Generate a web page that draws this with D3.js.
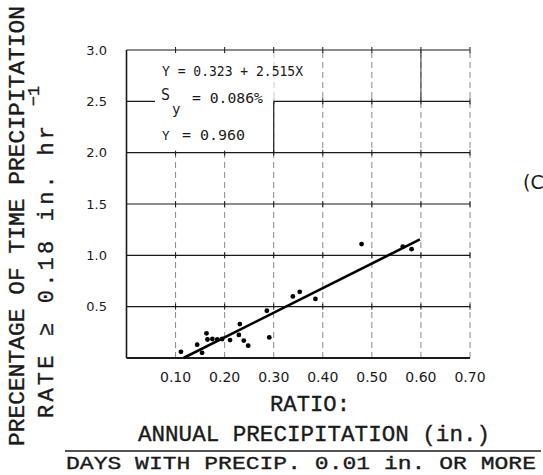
<!DOCTYPE html>
<html><head><meta charset="utf-8">
<script src="https://cdn.jsdelivr.net/npm/d3@7"></script>
<style>body{margin:0;background:#fff;} svg{display:block;}</style>
</head><body><svg id="c" width="543" height="475"></svg>
<script>
// ---- data ----
const ratioX   = [0.111,0.144,0.154,0.163,0.165,0.175,0.185,0.195,0.211,0.229,0.231,0.239,0.248,0.286,0.291,0.339,0.353,0.385,0.479,0.563,0.581];
const percentY = [0.06, 0.13, 0.05, 0.24, 0.18, 0.185,0.18, 0.185,0.175,0.225,0.33, 0.17, 0.12, 0.46, 0.20, 0.60, 0.645,0.575,1.11, 1.085,1.06];
const fitX = [0.116, 0.598];
const fitY = [0.0, 1.155];
const xTicks = [0.1,0.2,0.3,0.4,0.5,0.6,0.7];
const xTickLabels = ["0.10","0.20","0.30","0.40","0.50","0.60","0.70"];
const yTicks = [0.5,1.0,1.5,2.0,2.5,3.0];
const yTickLabels = ["0.5","1.0","1.5","2.0","2.5","3.0"];
const eqLine = "Y = 0.323 + 2.515X";
const syLine = "= 0.086%";
const rLine = "= 0.960";
const yTitle1 = "PRECENTAGE OF TIME PRECIPITATION";
const yTitle2 = "RATE \u2265 0.18 in. hr";
const xTitle1 = "RATIO:";
const xTitle2 = "ANNUAL PRECIPITATION (in.)";
const xTitle3 = "DAYS WITH PRECIP. 0.01 in. OR MORE";

// ---- drawing ----
const svg = d3.select("#c");
svg.append("rect").attr("width",543).attr("height",475).attr("fill","#fff");
const x = d3.scaleLinear().domain([0,0.7]).range([126.5,470]);
const y = d3.scaleLinear().domain([0,3]).range([358,50]);
const ink = "#1a1a1a";

// vertical dashed gridlines
svg.append("g").selectAll("line").data(xTicks).join("line")
  .attr("x1",d=>x(d)).attr("x2",d=>x(d)).attr("y1",y(0)).attr("y2",y(3))
  .attr("stroke","#8a8a8a").attr("stroke-width",1).attr("stroke-dasharray","6,4");
// horizontal gridlines
svg.append("g").selectAll("line").data(yTicks).join("line")
  .attr("x1",x(0)).attr("x2",x(0.7)).attr("y1",d=>y(d)).attr("y2",d=>y(d))
  .attr("stroke",ink).attr("stroke-width",1.2);
// small crosses at intersections
const inter = [];
xTicks.forEach(a=>yTicks.forEach(b=>inter.push([a,b])));
svg.append("g").selectAll("line").data(inter).join("line")
  .attr("x1",d=>x(d[0])).attr("x2",d=>x(d[0])).attr("y1",d=>y(d[1])-3).attr("y2",d=>y(d[1])+3)
  .attr("stroke",ink).attr("stroke-width",1);

// annotation box (blanks grid)
svg.append("rect").attr("x",155).attr("y",y(2.97)).attr("width",x(0.3)-155).attr("height",y(2.02)-y(2.97))
  .attr("fill","#fff");
svg.append("line").attr("x1",x(0.3)).attr("x2",x(0.3)).attr("y1",y(2.5)).attr("y2",y(2.0))
  .attr("stroke",ink).attr("stroke-width",1.2);
svg.append("line").attr("x1",x(0.6)).attr("x2",x(0.6)).attr("y1",y(3)).attr("y2",y(2.5))
  .attr("stroke","#444").attr("stroke-width",1.1);

// axes frame
svg.append("line").attr("x1",x(0)).attr("x2",x(0)).attr("y1",y(0)).attr("y2",y(3))
  .attr("stroke",ink).attr("stroke-width",1.6);
svg.append("line").attr("x1",x(0)).attr("x2",x(0.7)).attr("y1",y(0)).attr("y2",y(0))
  .attr("stroke",ink).attr("stroke-width",1.8);

// tick labels
svg.append("g").selectAll("text").data(yTicks).join("text")
  .attr("x",107).attr("y",d=>y(d)).attr("dy","0.36em").attr("text-anchor","end")
  .attr("font-family","DejaVu Sans").attr("font-size",13).attr("fill",ink)
  .text((d,i)=>yTickLabels[i]);
svg.append("g").selectAll("text").data(xTicks).join("text")
  .attr("x",d=>x(d)).attr("y",377).attr("dy","0.36em").attr("text-anchor","middle")
  .attr("font-family","DejaVu Sans").attr("font-size",14).attr("fill",ink)
  .text((d,i)=>xTickLabels[i]);

// fit line
const line = d3.line().x(d=>x(d[0])).y(d=>y(d[1]));
svg.append("path").datum(fitX.map((v,i)=>[v,fitY[i]])).attr("d",line)
  .attr("stroke","#000").attr("stroke-width",2.6).attr("fill","none");

// points
svg.append("g").selectAll("circle").data(ratioX).join("circle")
  .attr("cx",d=>x(d)).attr("cy",(d,i)=>y(percentY[i])).attr("r",2.4).attr("fill","#000");

// annotation text
const mono = "DejaVu Sans Mono";
svg.append("text").attr("x",162).attr("y",75.5).attr("font-family",mono).attr("font-size",14)
  .attr("textLength",141).attr("lengthAdjust","spacingAndGlyphs").attr("fill",ink).text(eqLine);
svg.append("text").attr("x",161).attr("y",100).attr("font-family",mono).attr("font-size",15).attr("fill",ink).text("S");
svg.append("text").attr("x",172).attr("y",114).attr("font-family",mono).attr("font-size",14).attr("fill",ink).text("y");
svg.append("text").attr("x",192).attr("y",103).attr("font-family",mono).attr("font-size",14)
  .attr("textLength",71).attr("lengthAdjust","spacingAndGlyphs").attr("fill",ink).text(syLine);
svg.append("text").attr("x",162).attr("y",140).attr("font-family",mono).attr("font-size",12.5).attr("fill",ink).text("Y");
svg.append("text").attr("x",182).attr("y",140).attr("font-family",mono).attr("font-size",14)
  .attr("textLength",63).attr("lengthAdjust","spacingAndGlyphs").attr("fill",ink).text(rLine);

// titles (typewriter style)
const tw = "Liberation Mono";
function title(sel, fs){ return sel.attr("font-family",tw).attr("font-size",fs||22).attr("fill",ink)
  .attr("stroke",ink).attr("stroke-width",0.35); }
title(svg.append("text").attr("transform","translate(16.5,226) rotate(-90)").attr("text-anchor","middle")
  .attr("dy","0.36em").attr("textLength",440).attr("lengthAdjust","spacingAndGlyphs")).text(yTitle1);
title(svg.append("text").attr("transform","translate(45,418) rotate(-90)").attr("text-anchor","start")
  .attr("dy","0.36em").attr("textLength",292).attr("lengthAdjust","spacing")).text(yTitle2);
svg.append("text").attr("transform","translate(33,96) rotate(-90)").attr("text-anchor","middle")
  .attr("dy","0.36em").attr("font-family",tw).attr("font-size",17).attr("fill",ink)
  .attr("stroke",ink).attr("stroke-width",0.3).text("\u22121");

title(svg.append("text").attr("x",310).attr("y",403).attr("dy","0.36em").attr("text-anchor","middle")
  .attr("textLength",80).attr("lengthAdjust","spacingAndGlyphs")).text(xTitle1);
title(svg.append("text").attr("x",314).attr("y",433).attr("dy","0.36em").attr("text-anchor","middle")
  .attr("textLength",352).attr("lengthAdjust","spacingAndGlyphs")).text(xTitle2);
svg.append("line").attr("x1",65).attr("x2",541).attr("y1",451).attr("y2",451).attr("stroke",ink).attr("stroke-width",1.6);
title(svg.append("text").attr("x",301).attr("y",462).attr("dy","0.36em").attr("text-anchor","middle")
  .attr("textLength",470).attr("lengthAdjust","spacingAndGlyphs"), 19).text(xTitle3);

// panel label
svg.append("text").attr("x",523).attr("y",182).attr("dy","0.36em").attr("font-family","DejaVu Sans")
  .attr("font-size",19).attr("fill",ink).text("(C");
</script></body></html>
